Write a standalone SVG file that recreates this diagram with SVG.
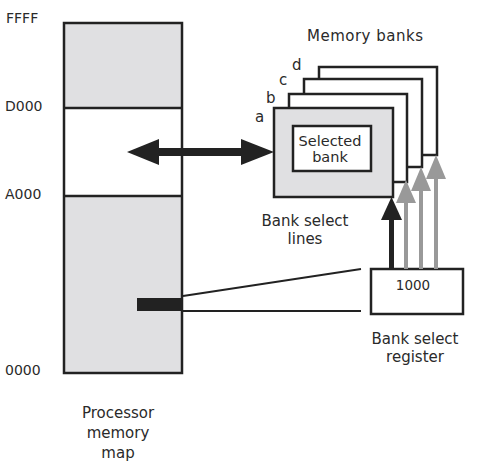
<svg xmlns="http://www.w3.org/2000/svg" width="481" height="469" viewBox="0 0 481 469">
<style>
text{font-family:"DejaVu Sans","Liberation Sans",sans-serif;fill:#2a2a2a}
.box{stroke:#222;stroke-width:2.5}
.grey{fill:#e0e0e2}
.white{fill:#fff}
.lbl{font-size:14px}
.t15{font-size:15px}
.mid{text-anchor:middle}
.thin{stroke:#222;stroke-width:1.8;fill:none}
.blk{fill:#222}
.gry{fill:#999}
</style>
<rect width="481" height="469" fill="#fff"/>
<g id="memory-map">
<rect class="grey" x="64" y="23" width="118" height="85"/>
<rect class="white" x="64" y="108" width="118" height="88"/>
<rect class="grey" x="64" y="196" width="118" height="177"/>
<rect class="box" x="64" y="23" width="118" height="350" fill="none"/>
<line class="box" x1="64" y1="108" x2="182" y2="108"/>
<line class="box" x1="64" y1="196" x2="182" y2="196"/>
<rect class="blk" x="137" y="298" width="46" height="13"/>
<text class="lbl" x="6" y="23">FFFF</text>
<text class="lbl" x="5" y="111">D000</text>
<text class="lbl" x="5" y="199">A000</text>
<text class="lbl" x="5" y="375">0000</text>
<text class="t15 mid" x="118" y="418">Processor</text>
<text class="t15 mid" x="118" y="438">memory</text>
<text class="t15 mid" x="118" y="458">map</text>
</g>
<g id="bank-d">
<rect class="box white" x="319" y="67" width="118" height="88"/>
<text class="t15" x="292" y="70">d</text>
</g>
<g id="bank-c">
<rect class="box white" x="304" y="79" width="118" height="88"/>
<text class="t15" x="279" y="85">c</text>
</g>
<g id="bank-b">
<rect class="box white" x="289" y="94" width="118" height="88"/>
<text class="t15" x="266" y="103">b</text>
</g>
<g id="bank-a">
<rect class="box grey" x="274" y="108" width="119" height="89"/>
<rect class="box white" x="293" y="126" width="78" height="45"/>
<text class="mid" x="330" y="145.5" style="font-size:14.5px">Selected</text>
<text class="mid" x="330" y="162" style="font-size:14.5px">bank</text>
<text class="t15" x="255" y="122">a</text>
</g>
<g id="memory-banks-label">
<text class="t15 mid" x="365" y="41" textLength="116">Memory banks</text>
</g>
<g id="bank-select-lines-label">
<text class="t15 mid" x="305" y="226">Bank select</text>
<text class="t15 mid" x="305" y="244">lines</text>
</g>
<g id="register">
<rect class="box white" x="371" y="269" width="92" height="45"/>
<text class="mid" x="413" y="290" style="font-size:13.5px">1000</text>
<text class="t15 mid" x="415" y="344">Bank select</text>
<text class="t15 mid" x="415" y="362">register</text>
</g>
<g id="connectors">
<rect class="blk" x="159" y="148" width="82" height="8"/>
<polygon class="blk" points="127,152 159,139 159,165"/>
<polygon class="blk" points="274,152 241,139 241,165"/>
<line class="thin" x1="183" y1="296" x2="361" y2="269"/>
<line class="thin" x1="183" y1="311" x2="361" y2="311"/>
<rect class="blk" x="389" y="219" width="5" height="50"/>
<polygon class="blk" points="391.5,197 381,220 402,220"/>
<rect class="gry" x="404" y="201" width="4" height="68"/>
<polygon class="gry" points="406,180 396,203 416,203"/>
<rect class="gry" x="419" y="190" width="4" height="79"/>
<polygon class="gry" points="421,167 411,191 431,191"/>
<rect class="gry" x="434" y="178" width="4" height="91"/>
<polygon class="gry" points="436,155 426,179 446,179"/>
</g>
</svg>
